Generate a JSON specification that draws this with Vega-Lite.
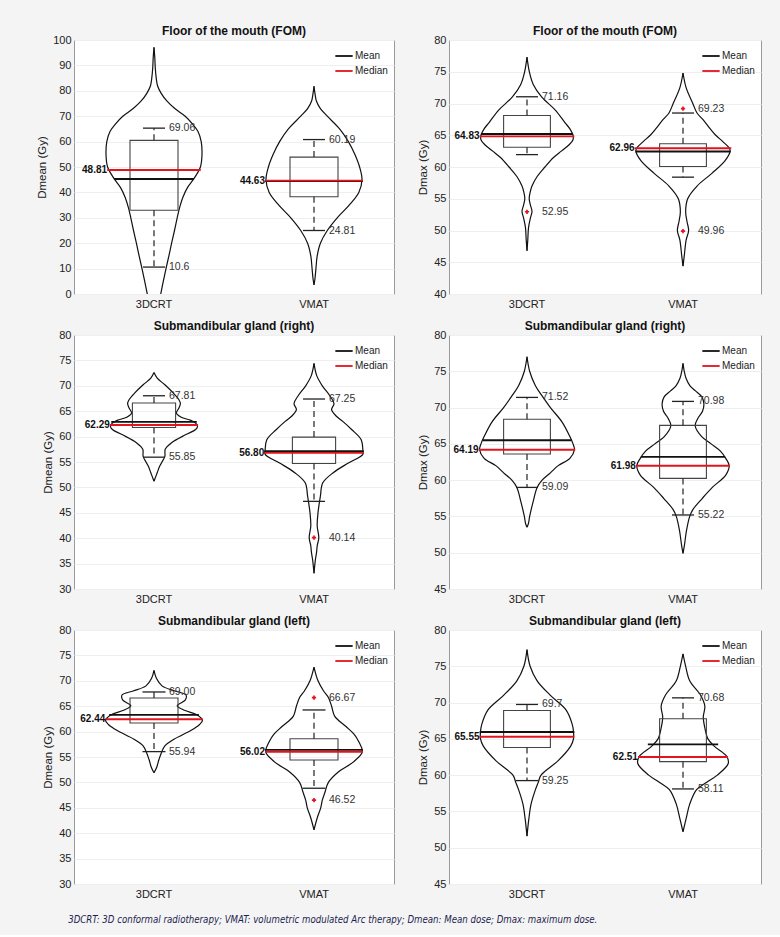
{
"$schema": "https://vega.github.io/schema/vega-lite/v6.json",
"padding": {"left": 36, "top": 24, "right": 20, "bottom": 10},
"background": "#f4f4f4",
"data": {"values": [
{"p":1,"k":"v","g":"3DCRT","y":97.1,"w":0},{"p":1,"k":"v","g":"3DCRT","y":93,"w":0.005},{"p":1,"k":"v","g":"3DCRT","y":89,"w":0.008},{"p":1,"k":"v","g":"3DCRT","y":85,"w":0.014},{"p":1,"k":"v","g":"3DCRT","y":82,"w":0.022},{"p":1,"k":"v","g":"3DCRT","y":79,"w":0.045},{"p":1,"k":"v","g":"3DCRT","y":76,"w":0.08},{"p":1,"k":"v","g":"3DCRT","y":73,"w":0.13},{"p":1,"k":"v","g":"3DCRT","y":70,"w":0.195},{"p":1,"k":"v","g":"3DCRT","y":67,"w":0.24},{"p":1,"k":"v","g":"3DCRT","y":64,"w":0.275},{"p":1,"k":"v","g":"3DCRT","y":60,"w":0.295},{"p":1,"k":"v","g":"3DCRT","y":55,"w":0.3},{"p":1,"k":"v","g":"3DCRT","y":50,"w":0.29},{"p":1,"k":"v","g":"3DCRT","y":45,"w":0.245},{"p":1,"k":"v","g":"3DCRT","y":42,"w":0.21},{"p":1,"k":"v","g":"3DCRT","y":38,"w":0.18},{"p":1,"k":"v","g":"3DCRT","y":34,"w":0.16},{"p":1,"k":"v","g":"3DCRT","y":30,"w":0.145},{"p":1,"k":"v","g":"3DCRT","y":25,"w":0.128},{"p":1,"k":"v","g":"3DCRT","y":20,"w":0.11},{"p":1,"k":"v","g":"3DCRT","y":15,"w":0.093},{"p":1,"k":"v","g":"3DCRT","y":10,"w":0.075},{"p":1,"k":"v","g":"3DCRT","y":5,"w":0.058},{"p":1,"k":"v","g":"3DCRT","y":0,"w":0.042},{"p":1,"k":"v","g":"3DCRT","y":-4,"w":0.03},
{"p":1,"k":"v","g":"VMAT","y":81.8,"w":0},{"p":1,"k":"v","g":"VMAT","y":79,"w":0.006},{"p":1,"k":"v","g":"VMAT","y":76,"w":0.015},{"p":1,"k":"v","g":"VMAT","y":73,"w":0.04},{"p":1,"k":"v","g":"VMAT","y":70,"w":0.083},{"p":1,"k":"v","g":"VMAT","y":65,"w":0.16},{"p":1,"k":"v","g":"VMAT","y":60,"w":0.215},{"p":1,"k":"v","g":"VMAT","y":55,"w":0.255},{"p":1,"k":"v","g":"VMAT","y":50,"w":0.285},{"p":1,"k":"v","g":"VMAT","y":45,"w":0.3},{"p":1,"k":"v","g":"VMAT","y":40,"w":0.28},{"p":1,"k":"v","g":"VMAT","y":35,"w":0.22},{"p":1,"k":"v","g":"VMAT","y":30,"w":0.145},{"p":1,"k":"v","g":"VMAT","y":25,"w":0.083},{"p":1,"k":"v","g":"VMAT","y":20,"w":0.04},{"p":1,"k":"v","g":"VMAT","y":15,"w":0.02},{"p":1,"k":"v","g":"VMAT","y":10,"w":0.012},{"p":1,"k":"v","g":"VMAT","y":6,"w":0.006},{"p":1,"k":"v","g":"VMAT","y":3.6,"w":0},
{"p":1,"k":"box","g":"3DCRT","y":33.0,"y2":60.5},{"p":1,"k":"box","g":"VMAT","y":38.3,"y2":53.9},
{"p":1,"k":"wh","g":"3DCRT","y":60.5,"y2":65.3},{"p":1,"k":"wh","g":"3DCRT","y":33.0,"y2":10.6},{"p":1,"k":"wh","g":"VMAT","y":53.9,"y2":60.8},{"p":1,"k":"wh","g":"VMAT","y":38.3,"y2":25.0},
{"p":1,"k":"cap","g":"3DCRT","y":65.3},{"p":1,"k":"cap","g":"3DCRT","y":10.6},{"p":1,"k":"cap","g":"VMAT","y":60.8},{"p":1,"k":"cap","g":"VMAT","y":25.0},
{"p":1,"k":"stat","g":"3DCRT","s":"Mean","y":45.3,"w":0.245},{"p":1,"k":"stat","g":"VMAT","s":"Mean","y":44.5,"w":0.3},{"p":1,"k":"stat","g":"3DCRT","s":"Median","y":48.81,"w":0.287,"t":"48.81"},{"p":1,"k":"stat","g":"VMAT","s":"Median","y":44.63,"w":0.3,"t":"44.63"},
{"p":1,"k":"lab","g":"3DCRT","y":65.3,"t":"69.06"},{"p":1,"k":"lab","g":"3DCRT","y":10.6,"t":"10.6"},{"p":1,"k":"lab","g":"VMAT","y":60.8,"t":"60.19"},{"p":1,"k":"lab","g":"VMAT","y":25.0,"t":"24.81"},

{"p":2,"k":"v","g":"3DCRT","y":77.3,"w":0},{"p":2,"k":"v","g":"3DCRT","y":75,"w":0.015},{"p":2,"k":"v","g":"3DCRT","y":73,"w":0.04},{"p":2,"k":"v","g":"3DCRT","y":71,"w":0.095},{"p":2,"k":"v","g":"3DCRT","y":69,"w":0.18},{"p":2,"k":"v","g":"3DCRT","y":67,"w":0.243},{"p":2,"k":"v","g":"3DCRT","y":66,"w":0.275},{"p":2,"k":"v","g":"3DCRT","y":65,"w":0.295},{"p":2,"k":"v","g":"3DCRT","y":64.3,"w":0.295},{"p":2,"k":"v","g":"3DCRT","y":63.5,"w":0.27},{"p":2,"k":"v","g":"3DCRT","y":62.5,"w":0.22},{"p":2,"k":"v","g":"3DCRT","y":61.5,"w":0.17},{"p":2,"k":"v","g":"3DCRT","y":60,"w":0.115},{"p":2,"k":"v","g":"3DCRT","y":58.5,"w":0.065},{"p":2,"k":"v","g":"3DCRT","y":57,"w":0.032},{"p":2,"k":"v","g":"3DCRT","y":56,"w":0.02},{"p":2,"k":"v","g":"3DCRT","y":55,"w":0.014},{"p":2,"k":"v","g":"3DCRT","y":54,"w":0.022},{"p":2,"k":"v","g":"3DCRT","y":53,"w":0.032},{"p":2,"k":"v","g":"3DCRT","y":52,"w":0.022},{"p":2,"k":"v","g":"3DCRT","y":50.5,"w":0.01},{"p":2,"k":"v","g":"3DCRT","y":48.5,"w":0.005},{"p":2,"k":"v","g":"3DCRT","y":46.8,"w":0},
{"p":2,"k":"v","g":"VMAT","y":74.8,"w":0},{"p":2,"k":"v","g":"VMAT","y":72.5,"w":0.02},{"p":2,"k":"v","g":"VMAT","y":70,"w":0.063},{"p":2,"k":"v","g":"VMAT","y":68.5,"w":0.09},{"p":2,"k":"v","g":"VMAT","y":67.5,"w":0.127},{"p":2,"k":"v","g":"VMAT","y":66,"w":0.175},{"p":2,"k":"v","g":"VMAT","y":65,"w":0.21},{"p":2,"k":"v","g":"VMAT","y":64,"w":0.255},{"p":2,"k":"v","g":"VMAT","y":63,"w":0.296},{"p":2,"k":"v","g":"VMAT","y":62.5,"w":0.302},{"p":2,"k":"v","g":"VMAT","y":61,"w":0.27},{"p":2,"k":"v","g":"VMAT","y":59,"w":0.185},{"p":2,"k":"v","g":"VMAT","y":57,"w":0.09},{"p":2,"k":"v","g":"VMAT","y":55,"w":0.03},{"p":2,"k":"v","g":"VMAT","y":53,"w":0.017},{"p":2,"k":"v","g":"VMAT","y":51.5,"w":0.025},{"p":2,"k":"v","g":"VMAT","y":50,"w":0.036},{"p":2,"k":"v","g":"VMAT","y":48.5,"w":0.02},{"p":2,"k":"v","g":"VMAT","y":46,"w":0.008},{"p":2,"k":"v","g":"VMAT","y":44.4,"w":0},
{"p":2,"k":"box","g":"3DCRT","y":63.1,"y2":68.1},{"p":2,"k":"box","g":"VMAT","y":60.08,"y2":63.67},
{"p":2,"k":"wh","g":"3DCRT","y":68.1,"y2":71.06},{"p":2,"k":"wh","g":"3DCRT","y":63.1,"y2":61.95},{"p":2,"k":"wh","g":"VMAT","y":63.67,"y2":68.5},{"p":2,"k":"wh","g":"VMAT","y":60.08,"y2":58.4},
{"p":2,"k":"cap","g":"3DCRT","y":71.06},{"p":2,"k":"cap","g":"3DCRT","y":61.95},{"p":2,"k":"cap","g":"VMAT","y":68.5},{"p":2,"k":"cap","g":"VMAT","y":58.4},
{"p":2,"k":"stat","g":"3DCRT","s":"Mean","y":65.2,"w":0.29},{"p":2,"k":"stat","g":"VMAT","s":"Mean","y":62.44,"w":0.3},{"p":2,"k":"stat","g":"3DCRT","s":"Median","y":64.83,"w":0.298,"t":"64.83"},{"p":2,"k":"stat","g":"VMAT","s":"Median","y":62.96,"w":0.304,"t":"62.96"},
{"p":2,"k":"lab","g":"3DCRT","y":71.06,"t":"71.16"},{"p":2,"k":"lab","g":"3DCRT","y":52.95,"t":"52.95"},{"p":2,"k":"lab","g":"VMAT","y":69.2,"t":"69.23"},{"p":2,"k":"lab","g":"VMAT","y":49.9,"t":"49.96"},
{"p":2,"k":"out","g":"3DCRT","y":52.95},{"p":2,"k":"out","g":"VMAT","y":69.2},{"p":2,"k":"out","g":"VMAT","y":49.9},

{"p":3,"k":"v","g":"3DCRT","y":72.6,"w":0},{"p":3,"k":"v","g":"3DCRT","y":71.5,"w":0.02},{"p":3,"k":"v","g":"3DCRT","y":70.2,"w":0.068},{"p":3,"k":"v","g":"3DCRT","y":68.6,"w":0.12},{"p":3,"k":"v","g":"3DCRT","y":67.3,"w":0.155},{"p":3,"k":"v","g":"3DCRT","y":66.5,"w":0.165},{"p":3,"k":"v","g":"3DCRT","y":65.6,"w":0.155},{"p":3,"k":"v","g":"3DCRT","y":64.6,"w":0.14},{"p":3,"k":"v","g":"3DCRT","y":63.8,"w":0.17},{"p":3,"k":"v","g":"3DCRT","y":63.2,"w":0.23},{"p":3,"k":"v","g":"3DCRT","y":62.6,"w":0.262},{"p":3,"k":"v","g":"3DCRT","y":62,"w":0.272},{"p":3,"k":"v","g":"3DCRT","y":61.4,"w":0.26},{"p":3,"k":"v","g":"3DCRT","y":60.4,"w":0.2},{"p":3,"k":"v","g":"3DCRT","y":58.8,"w":0.11},{"p":3,"k":"v","g":"3DCRT","y":57.5,"w":0.07},{"p":3,"k":"v","g":"3DCRT","y":56.1,"w":0.068},{"p":3,"k":"v","g":"3DCRT","y":55,"w":0.05},{"p":3,"k":"v","g":"3DCRT","y":54.2,"w":0.036},{"p":3,"k":"v","g":"3DCRT","y":52.9,"w":0.02},{"p":3,"k":"v","g":"3DCRT","y":51.2,"w":0},
{"p":3,"k":"v","g":"VMAT","y":74.4,"w":0},{"p":3,"k":"v","g":"VMAT","y":72,"w":0.017},{"p":3,"k":"v","g":"VMAT","y":70,"w":0.052},{"p":3,"k":"v","g":"VMAT","y":68,"w":0.1},{"p":3,"k":"v","g":"VMAT","y":66.5,"w":0.125},{"p":3,"k":"v","g":"VMAT","y":65.3,"w":0.11},{"p":3,"k":"v","g":"VMAT","y":64,"w":0.14},{"p":3,"k":"v","g":"VMAT","y":63,"w":0.18},{"p":3,"k":"v","g":"VMAT","y":61.4,"w":0.235},{"p":3,"k":"v","g":"VMAT","y":59.4,"w":0.295},{"p":3,"k":"v","g":"VMAT","y":57.5,"w":0.305},{"p":3,"k":"v","g":"VMAT","y":56.5,"w":0.305},{"p":3,"k":"v","g":"VMAT","y":54.8,"w":0.215},{"p":3,"k":"v","g":"VMAT","y":52.9,"w":0.12},{"p":3,"k":"v","g":"VMAT","y":50.9,"w":0.055},{"p":3,"k":"v","g":"VMAT","y":48.3,"w":0.04},{"p":3,"k":"v","g":"VMAT","y":45,"w":0.025},{"p":3,"k":"v","g":"VMAT","y":42.4,"w":0.02},{"p":3,"k":"v","g":"VMAT","y":40.1,"w":0.03},{"p":3,"k":"v","g":"VMAT","y":38.5,"w":0.02},{"p":3,"k":"v","g":"VMAT","y":37.2,"w":0.016},{"p":3,"k":"v","g":"VMAT","y":35.6,"w":0.008},{"p":3,"k":"v","g":"VMAT","y":33.1,"w":0},
{"p":3,"k":"box","g":"3DCRT","y":61.8,"y2":66.6},{"p":3,"k":"box","g":"VMAT","y":54.7,"y2":59.9},
{"p":3,"k":"wh","g":"3DCRT","y":66.6,"y2":68.04},{"p":3,"k":"wh","g":"3DCRT","y":61.8,"y2":55.95},{"p":3,"k":"wh","g":"VMAT","y":59.9,"y2":67.4},{"p":3,"k":"wh","g":"VMAT","y":54.7,"y2":47.25},
{"p":3,"k":"cap","g":"3DCRT","y":68.04},{"p":3,"k":"cap","g":"3DCRT","y":55.95},{"p":3,"k":"cap","g":"VMAT","y":67.4},{"p":3,"k":"cap","g":"VMAT","y":47.25},
{"p":3,"k":"stat","g":"3DCRT","s":"Mean","y":62.9,"w":0.262},{"p":3,"k":"stat","g":"VMAT","s":"Mean","y":57.15,"w":0.305},{"p":3,"k":"stat","g":"3DCRT","s":"Median","y":62.29,"w":0.27,"t":"62.29"},{"p":3,"k":"stat","g":"VMAT","s":"Median","y":56.8,"w":0.305,"t":"56.80"},
{"p":3,"k":"lab","g":"3DCRT","y":68.04,"t":"67.81"},{"p":3,"k":"lab","g":"3DCRT","y":55.95,"t":"55.85"},{"p":3,"k":"lab","g":"VMAT","y":67.4,"t":"67.25"},{"p":3,"k":"lab","g":"VMAT","y":40.13,"t":"40.14"},
{"p":3,"k":"out","g":"VMAT","y":40.13},

{"p":4,"k":"v","g":"3DCRT","y":77,"w":0},{"p":4,"k":"v","g":"3DCRT","y":75,"w":0.017},{"p":4,"k":"v","g":"3DCRT","y":73,"w":0.054},{"p":4,"k":"v","g":"3DCRT","y":71.5,"w":0.1},{"p":4,"k":"v","g":"3DCRT","y":70,"w":0.15},{"p":4,"k":"v","g":"3DCRT","y":68,"w":0.225},{"p":4,"k":"v","g":"3DCRT","y":66,"w":0.275},{"p":4,"k":"v","g":"3DCRT","y":65,"w":0.295},{"p":4,"k":"v","g":"3DCRT","y":64.2,"w":0.304},{"p":4,"k":"v","g":"3DCRT","y":63,"w":0.275},{"p":4,"k":"v","g":"3DCRT","y":62,"w":0.2},{"p":4,"k":"v","g":"3DCRT","y":61,"w":0.15},{"p":4,"k":"v","g":"3DCRT","y":60,"w":0.097},{"p":4,"k":"v","g":"3DCRT","y":59,"w":0.065},{"p":4,"k":"v","g":"3DCRT","y":57,"w":0.039},{"p":4,"k":"v","g":"3DCRT","y":55,"w":0.017},{"p":4,"k":"v","g":"3DCRT","y":54,"w":0.009},{"p":4,"k":"v","g":"3DCRT","y":53.5,"w":0},
{"p":4,"k":"v","g":"VMAT","y":76.1,"w":0},{"p":4,"k":"v","g":"VMAT","y":75,"w":0.008},{"p":4,"k":"v","g":"VMAT","y":74,"w":0.02},{"p":4,"k":"v","g":"VMAT","y":73,"w":0.045},{"p":4,"k":"v","g":"VMAT","y":72.3,"w":0.08},{"p":4,"k":"v","g":"VMAT","y":71.5,"w":0.12},{"p":4,"k":"v","g":"VMAT","y":70.5,"w":0.134},{"p":4,"k":"v","g":"VMAT","y":69.5,"w":0.125},{"p":4,"k":"v","g":"VMAT","y":68.5,"w":0.095},{"p":4,"k":"v","g":"VMAT","y":67.5,"w":0.078},{"p":4,"k":"v","g":"VMAT","y":66,"w":0.12},{"p":4,"k":"v","g":"VMAT","y":65,"w":0.18},{"p":4,"k":"v","g":"VMAT","y":64,"w":0.24},{"p":4,"k":"v","g":"VMAT","y":63,"w":0.274},{"p":4,"k":"v","g":"VMAT","y":62,"w":0.296},{"p":4,"k":"v","g":"VMAT","y":60.7,"w":0.274},{"p":4,"k":"v","g":"VMAT","y":59,"w":0.188},{"p":4,"k":"v","g":"VMAT","y":57.5,"w":0.124},{"p":4,"k":"v","g":"VMAT","y":56,"w":0.065},{"p":4,"k":"v","g":"VMAT","y":55,"w":0.043},{"p":4,"k":"v","g":"VMAT","y":53,"w":0.022},{"p":4,"k":"v","g":"VMAT","y":51,"w":0.009},{"p":4,"k":"v","g":"VMAT","y":49.9,"w":0},
{"p":4,"k":"box","g":"3DCRT","y":63.6,"y2":68.4},{"p":4,"k":"box","g":"VMAT","y":60.24,"y2":67.55},
{"p":4,"k":"wh","g":"3DCRT","y":68.4,"y2":71.4},{"p":4,"k":"wh","g":"3DCRT","y":63.6,"y2":59.0},{"p":4,"k":"wh","g":"VMAT","y":67.55,"y2":70.85},{"p":4,"k":"wh","g":"VMAT","y":60.24,"y2":55.2},
{"p":4,"k":"cap","g":"3DCRT","y":71.4},{"p":4,"k":"cap","g":"3DCRT","y":59.0},{"p":4,"k":"cap","g":"VMAT","y":70.85},{"p":4,"k":"cap","g":"VMAT","y":55.2},
{"p":4,"k":"stat","g":"3DCRT","s":"Mean","y":65.5,"w":0.28},{"p":4,"k":"stat","g":"VMAT","s":"Mean","y":63.2,"w":0.265},{"p":4,"k":"stat","g":"3DCRT","s":"Median","y":64.19,"w":0.304,"t":"64.19"},{"p":4,"k":"stat","g":"VMAT","s":"Median","y":61.98,"w":0.296,"t":"61.98"},
{"p":4,"k":"lab","g":"3DCRT","y":71.4,"t":"71.52"},{"p":4,"k":"lab","g":"3DCRT","y":59.0,"t":"59.09"},{"p":4,"k":"lab","g":"VMAT","y":70.85,"t":"70.98"},{"p":4,"k":"lab","g":"VMAT","y":55.2,"t":"55.22"},

{"p":5,"k":"v","g":"3DCRT","y":72.06,"w":0},{"p":5,"k":"v","g":"3DCRT","y":70.5,"w":0.015},{"p":5,"k":"v","g":"3DCRT","y":69,"w":0.05},{"p":5,"k":"v","g":"3DCRT","y":68,"w":0.13},{"p":5,"k":"v","g":"3DCRT","y":67.2,"w":0.2},{"p":5,"k":"v","g":"3DCRT","y":66.2,"w":0.195},{"p":5,"k":"v","g":"3DCRT","y":65.1,"w":0.145},{"p":5,"k":"v","g":"3DCRT","y":64.2,"w":0.19},{"p":5,"k":"v","g":"3DCRT","y":63.5,"w":0.255},{"p":5,"k":"v","g":"3DCRT","y":62.8,"w":0.29},{"p":5,"k":"v","g":"3DCRT","y":62.2,"w":0.303},{"p":5,"k":"v","g":"3DCRT","y":61.4,"w":0.285},{"p":5,"k":"v","g":"3DCRT","y":60.2,"w":0.23},{"p":5,"k":"v","g":"3DCRT","y":58.5,"w":0.125},{"p":5,"k":"v","g":"3DCRT","y":57.2,"w":0.068},{"p":5,"k":"v","g":"3DCRT","y":55.9,"w":0.047},{"p":5,"k":"v","g":"3DCRT","y":54.5,"w":0.031},{"p":5,"k":"v","g":"3DCRT","y":53,"w":0.017},{"p":5,"k":"v","g":"3DCRT","y":51.9,"w":0},
{"p":5,"k":"v","g":"VMAT","y":72.7,"w":0},{"p":5,"k":"v","g":"VMAT","y":70,"w":0.025},{"p":5,"k":"v","g":"VMAT","y":68,"w":0.06},{"p":5,"k":"v","g":"VMAT","y":66.7,"w":0.09},{"p":5,"k":"v","g":"VMAT","y":65,"w":0.11},{"p":5,"k":"v","g":"VMAT","y":63,"w":0.13},{"p":5,"k":"v","g":"VMAT","y":61,"w":0.2},{"p":5,"k":"v","g":"VMAT","y":59.5,"w":0.25},{"p":5,"k":"v","g":"VMAT","y":58,"w":0.28},{"p":5,"k":"v","g":"VMAT","y":56,"w":0.302},{"p":5,"k":"v","g":"VMAT","y":54,"w":0.245},{"p":5,"k":"v","g":"VMAT","y":52,"w":0.15},{"p":5,"k":"v","g":"VMAT","y":50,"w":0.09},{"p":5,"k":"v","g":"VMAT","y":48,"w":0.068},{"p":5,"k":"v","g":"VMAT","y":46.5,"w":0.052},{"p":5,"k":"v","g":"VMAT","y":45,"w":0.042},{"p":5,"k":"v","g":"VMAT","y":43,"w":0.02},{"p":5,"k":"v","g":"VMAT","y":40.65,"w":0},
{"p":5,"k":"box","g":"3DCRT","y":61.7,"y2":66.6},{"p":5,"k":"box","g":"VMAT","y":54.4,"y2":58.6},
{"p":5,"k":"wh","g":"3DCRT","y":66.6,"y2":67.8},{"p":5,"k":"wh","g":"3DCRT","y":61.7,"y2":56.06},{"p":5,"k":"wh","g":"VMAT","y":58.6,"y2":64.26},{"p":5,"k":"wh","g":"VMAT","y":54.4,"y2":48.85},
{"p":5,"k":"cap","g":"3DCRT","y":67.8},{"p":5,"k":"cap","g":"3DCRT","y":56.06},{"p":5,"k":"cap","g":"VMAT","y":64.26},{"p":5,"k":"cap","g":"VMAT","y":48.85},
{"p":5,"k":"stat","g":"3DCRT","s":"Mean","y":63.3,"w":0.275},{"p":5,"k":"stat","g":"VMAT","s":"Mean","y":56.4,"w":0.3},{"p":5,"k":"stat","g":"3DCRT","s":"Median","y":62.44,"w":0.298,"t":"62.44"},{"p":5,"k":"stat","g":"VMAT","s":"Median","y":56.02,"w":0.3,"t":"56.02"},
{"p":5,"k":"lab","g":"3DCRT","y":67.8,"t":"69.00"},{"p":5,"k":"lab","g":"3DCRT","y":56.06,"t":"55.94"},{"p":5,"k":"lab","g":"VMAT","y":66.7,"t":"66.67"},{"p":5,"k":"lab","g":"VMAT","y":46.5,"t":"46.52"},
{"p":5,"k":"out","g":"VMAT","y":66.7},{"p":5,"k":"out","g":"VMAT","y":46.5},

{"p":6,"k":"v","g":"3DCRT","y":77.3,"w":0},{"p":6,"k":"v","g":"3DCRT","y":75,"w":0.02},{"p":6,"k":"v","g":"3DCRT","y":73,"w":0.065},{"p":6,"k":"v","g":"3DCRT","y":71,"w":0.15},{"p":6,"k":"v","g":"3DCRT","y":69,"w":0.25},{"p":6,"k":"v","g":"3DCRT","y":67,"w":0.29},{"p":6,"k":"v","g":"3DCRT","y":66,"w":0.298},{"p":6,"k":"v","g":"3DCRT","y":65,"w":0.298},{"p":6,"k":"v","g":"3DCRT","y":64,"w":0.28},{"p":6,"k":"v","g":"3DCRT","y":62,"w":0.2},{"p":6,"k":"v","g":"3DCRT","y":60,"w":0.09},{"p":6,"k":"v","g":"3DCRT","y":59,"w":0.072},{"p":6,"k":"v","g":"3DCRT","y":58,"w":0.054},{"p":6,"k":"v","g":"3DCRT","y":56,"w":0.026},{"p":6,"k":"v","g":"3DCRT","y":54,"w":0.012},{"p":6,"k":"v","g":"3DCRT","y":51.6,"w":0},
{"p":6,"k":"v","g":"VMAT","y":76.7,"w":0},{"p":6,"k":"v","g":"VMAT","y":75,"w":0.017},{"p":6,"k":"v","g":"VMAT","y":73,"w":0.043},{"p":6,"k":"v","g":"VMAT","y":71,"w":0.113},{"p":6,"k":"v","g":"VMAT","y":69.5,"w":0.14},{"p":6,"k":"v","g":"VMAT","y":68,"w":0.13},{"p":6,"k":"v","g":"VMAT","y":66.5,"w":0.14},{"p":6,"k":"v","g":"VMAT","y":65,"w":0.16},{"p":6,"k":"v","g":"VMAT","y":64,"w":0.2},{"p":6,"k":"v","g":"VMAT","y":62.6,"w":0.28},{"p":6,"k":"v","g":"VMAT","y":61.6,"w":0.29},{"p":6,"k":"v","g":"VMAT","y":60,"w":0.22},{"p":6,"k":"v","g":"VMAT","y":59,"w":0.15},{"p":6,"k":"v","g":"VMAT","y":58,"w":0.087},{"p":6,"k":"v","g":"VMAT","y":56,"w":0.043},{"p":6,"k":"v","g":"VMAT","y":54,"w":0.02},{"p":6,"k":"v","g":"VMAT","y":52.2,"w":0},
{"p":6,"k":"box","g":"3DCRT","y":63.8,"y2":68.9},{"p":6,"k":"box","g":"VMAT","y":61.86,"y2":67.77},
{"p":6,"k":"wh","g":"3DCRT","y":68.9,"y2":69.74},{"p":6,"k":"wh","g":"3DCRT","y":63.8,"y2":59.25},{"p":6,"k":"wh","g":"VMAT","y":67.77,"y2":70.65},{"p":6,"k":"wh","g":"VMAT","y":61.86,"y2":58.1},
{"p":6,"k":"cap","g":"3DCRT","y":69.74},{"p":6,"k":"cap","g":"3DCRT","y":59.25},{"p":6,"k":"cap","g":"VMAT","y":70.65},{"p":6,"k":"cap","g":"VMAT","y":58.1},
{"p":6,"k":"stat","g":"3DCRT","s":"Mean","y":65.94,"w":0.298},{"p":6,"k":"stat","g":"VMAT","s":"Mean","y":64.24,"w":0.22},{"p":6,"k":"stat","g":"3DCRT","s":"Median","y":65.3,"w":0.298,"t":"65.55"},{"p":6,"k":"stat","g":"VMAT","s":"Median","y":62.51,"w":0.283,"t":"62.51"},
{"p":6,"k":"lab","g":"3DCRT","y":69.74,"t":"69.7"},{"p":6,"k":"lab","g":"3DCRT","y":59.25,"t":"59.25"},{"p":6,"k":"lab","g":"VMAT","y":70.65,"t":"70.68"},{"p":6,"k":"lab","g":"VMAT","y":58.1,"t":"58.11"}
]},
"columns": 2,
"spacing": {"row": 9, "column": 22},
"resolve": {"scale": {"color": "independent", "size": "independent", "xOffset": "independent", "x": "independent", "y": "independent"}, "legend": {"color": "independent", "size": "independent"}},
"title": {"text": "3DCRT: 3D conformal radiotherapy; VMAT: volumetric modulated Arc therapy; Dmean: Mean dose; Dmax: maximum dose.", "orient": "bottom", "anchor": "start", "dx": 32, "offset": 15, "font": "Liberation Sans Narrow, DejaVu Sans Condensed, sans-serif", "fontSize": 9.6, "fontStyle": "italic", "fontWeight": "normal", "color": "#1e1e50"},
"concat": [
{"title": "Floor of the mouth (FOM)", "width": 320, "height": 254,
 "transform": [{"filter": "datum.p == 1"}],
 "encoding": {
  "x": {"field": "g", "type": "nominal", "scale": {"type": "band", "domain": ["3DCRT", "VMAT"], "paddingInner": 0, "paddingOuter": 0}, "axis": {"title": null, "labelAngle": 0}},
  "y": {"field": "y", "type": "quantitative", "scale": {"domain": [0, 100], "nice": false, "zero": false}, "axis": {"title": "Dmean (Gy)", "values": [0,10,20,30,40,50,60,70,80,90,100]}}
 },
 "resolve": {"scale": {"xOffset": "independent"}},
 "layer": [
  {"transform": [{"filter": "datum.k == 'v'"}], "mark": {"type": "line", "color": "#111", "strokeWidth": 1.2, "interpolate": "catmull-rom", "clip": true}, "encoding": {"xOffset": {"field": "w", "type": "quantitative", "scale": {"domain": [-0.5, 0.5]}}, "order": {"field": "y", "type": "quantitative"}, "detail": {"field": "g"}}},
  {"transform": [{"filter": "datum.k == 'v'"}], "mark": {"type": "line", "color": "#111", "strokeWidth": 1.2, "interpolate": "catmull-rom", "clip": true}, "encoding": {"xOffset": {"field": "w", "type": "quantitative", "scale": {"domain": [-0.5, 0.5], "reverse": true}}, "order": {"field": "y", "type": "quantitative"}, "detail": {"field": "g"}}},
  {"transform": [{"filter": "datum.k == 'box'"}], "mark": {"type": "bar", "width": {"band": 0.3}, "fill": "transparent", "stroke": "#444", "strokeWidth": 1.1}, "encoding": {"y2": {"field": "y2"}}},
  {"transform": [{"filter": "datum.k == 'wh'"}], "mark": {"type": "rule", "color": "#222", "strokeWidth": 1.2, "strokeDash": [6, 4]}, "encoding": {"y2": {"field": "y2"}}},
  {"transform": [{"filter": "datum.k == 'cap'"}], "mark": {"type": "tick", "color": "#222", "size": 22, "thickness": 1.3, "opacity": 1}},
  {"transform": [{"filter": "datum.k == 'stat'"}], "mark": {"type": "tick", "filled": false, "thickness": 0.2, "strokeWidth": 1.7, "opacity": 1}, "encoding": {"size": {"field": "w", "type": "quantitative", "scale": {"domain": [0, 0.5], "range": [0, 160]}, "legend": null}, "color": {"field": "s", "type": "nominal", "scale": {"domain": ["Mean", "Median"], "range": ["#111111", "#e3141b"]}, "legend": {"title": null, "orient": "top-right", "offset": 6, "symbolType": "stroke", "symbolSize": 300, "symbolStrokeWidth": 1.8, "labelOffset": 1, "rowPadding": 0, "padding": 0}}}},
  {"transform": [{"filter": "datum.k == 'stat' && datum.s == 'Median'"}], "mark": {"type": "text", "align": "right", "dx": -1, "fontWeight": "bold", "fontSize": 10, "color": "#111"}, "encoding": {"xOffset": {"field": "w", "type": "quantitative", "scale": {"domain": [-0.5, 0.5], "reverse": true}}, "text": {"field": "t"}}},
  {"transform": [{"filter": "datum.k == 'lab'"}], "mark": {"type": "text", "align": "left", "dx": 15, "fontSize": 10.5, "color": "#333"}, "encoding": {"text": {"field": "t"}}},
  {"transform": [{"filter": "datum.k == 'out'"}], "mark": {"type": "point", "shape": "cross", "filled": true, "color": "#e3141b", "size": 18, "opacity": 1}}
 ]},
{"title": "Floor of the mouth (FOM)", "width": 312, "height": 254,
 "transform": [{"filter": "datum.p == 2"}],
 "encoding": {
  "x": {"field": "g", "type": "nominal", "scale": {"type": "band", "domain": ["3DCRT", "VMAT"], "paddingInner": 0, "paddingOuter": 0}, "axis": {"title": null, "labelAngle": 0}},
  "y": {"field": "y", "type": "quantitative", "scale": {"domain": [40, 80], "nice": false, "zero": false}, "axis": {"title": "Dmax (Gy)", "values": [40,45,50,55,60,65,70,75,80]}}
 },
 "resolve": {"scale": {"xOffset": "independent"}},
 "layer": [
  {"transform": [{"filter": "datum.k == 'v'"}], "mark": {"type": "line", "color": "#111", "strokeWidth": 1.2, "interpolate": "catmull-rom", "clip": true}, "encoding": {"xOffset": {"field": "w", "type": "quantitative", "scale": {"domain": [-0.5, 0.5]}}, "order": {"field": "y", "type": "quantitative"}, "detail": {"field": "g"}}},
  {"transform": [{"filter": "datum.k == 'v'"}], "mark": {"type": "line", "color": "#111", "strokeWidth": 1.2, "interpolate": "catmull-rom", "clip": true}, "encoding": {"xOffset": {"field": "w", "type": "quantitative", "scale": {"domain": [-0.5, 0.5], "reverse": true}}, "order": {"field": "y", "type": "quantitative"}, "detail": {"field": "g"}}},
  {"transform": [{"filter": "datum.k == 'box'"}], "mark": {"type": "bar", "width": {"band": 0.3}, "fill": "transparent", "stroke": "#444", "strokeWidth": 1.1}, "encoding": {"y2": {"field": "y2"}}},
  {"transform": [{"filter": "datum.k == 'wh'"}], "mark": {"type": "rule", "color": "#222", "strokeWidth": 1.2, "strokeDash": [6, 4]}, "encoding": {"y2": {"field": "y2"}}},
  {"transform": [{"filter": "datum.k == 'cap'"}], "mark": {"type": "tick", "color": "#222", "size": 22, "thickness": 1.3, "opacity": 1}},
  {"transform": [{"filter": "datum.k == 'stat'"}], "mark": {"type": "tick", "filled": false, "thickness": 0.2, "strokeWidth": 1.7, "opacity": 1}, "encoding": {"size": {"field": "w", "type": "quantitative", "scale": {"domain": [0, 0.5], "range": [0, 156]}, "legend": null}, "color": {"field": "s", "type": "nominal", "scale": {"domain": ["Mean", "Median"], "range": ["#111111", "#e3141b"]}, "legend": {"title": null, "orient": "top-right", "offset": 6, "symbolType": "stroke", "symbolSize": 300, "symbolStrokeWidth": 1.8, "labelOffset": 1, "rowPadding": 0, "padding": 0}}}},
  {"transform": [{"filter": "datum.k == 'stat' && datum.s == 'Median'"}], "mark": {"type": "text", "align": "right", "dx": -1, "fontWeight": "bold", "fontSize": 10, "color": "#111"}, "encoding": {"xOffset": {"field": "w", "type": "quantitative", "scale": {"domain": [-0.5, 0.5], "reverse": true}}, "text": {"field": "t"}}},
  {"transform": [{"filter": "datum.k == 'lab'"}], "mark": {"type": "text", "align": "left", "dx": 15, "fontSize": 10.5, "color": "#333"}, "encoding": {"text": {"field": "t"}}},
  {"transform": [{"filter": "datum.k == 'out'"}], "mark": {"type": "point", "shape": "cross", "filled": true, "color": "#e3141b", "size": 18, "opacity": 1}}
 ]},
{"title": "Submandibular gland (right)", "width": 320, "height": 254,
 "transform": [{"filter": "datum.p == 3"}],
 "encoding": {
  "x": {"field": "g", "type": "nominal", "scale": {"type": "band", "domain": ["3DCRT", "VMAT"], "paddingInner": 0, "paddingOuter": 0}, "axis": {"title": null, "labelAngle": 0}},
  "y": {"field": "y", "type": "quantitative", "scale": {"domain": [30, 80], "nice": false, "zero": false}, "axis": {"title": "Dmean (Gy)", "values": [30,35,40,45,50,55,60,65,70,75,80]}}
 },
 "resolve": {"scale": {"xOffset": "independent"}},
 "layer": [
  {"transform": [{"filter": "datum.k == 'v'"}], "mark": {"type": "line", "color": "#111", "strokeWidth": 1.2, "interpolate": "catmull-rom", "clip": true}, "encoding": {"xOffset": {"field": "w", "type": "quantitative", "scale": {"domain": [-0.5, 0.5]}}, "order": {"field": "y", "type": "quantitative"}, "detail": {"field": "g"}}},
  {"transform": [{"filter": "datum.k == 'v'"}], "mark": {"type": "line", "color": "#111", "strokeWidth": 1.2, "interpolate": "catmull-rom", "clip": true}, "encoding": {"xOffset": {"field": "w", "type": "quantitative", "scale": {"domain": [-0.5, 0.5], "reverse": true}}, "order": {"field": "y", "type": "quantitative"}, "detail": {"field": "g"}}},
  {"transform": [{"filter": "datum.k == 'box'"}], "mark": {"type": "bar", "width": {"band": 0.27}, "fill": "transparent", "stroke": "#444", "strokeWidth": 1.1}, "encoding": {"y2": {"field": "y2"}}},
  {"transform": [{"filter": "datum.k == 'wh'"}], "mark": {"type": "rule", "color": "#222", "strokeWidth": 1.2, "strokeDash": [6, 4]}, "encoding": {"y2": {"field": "y2"}}},
  {"transform": [{"filter": "datum.k == 'cap'"}], "mark": {"type": "tick", "color": "#222", "size": 22, "thickness": 1.3, "opacity": 1}},
  {"transform": [{"filter": "datum.k == 'stat'"}], "mark": {"type": "tick", "filled": false, "thickness": 0.2, "strokeWidth": 1.7, "opacity": 1}, "encoding": {"size": {"field": "w", "type": "quantitative", "scale": {"domain": [0, 0.5], "range": [0, 160]}, "legend": null}, "color": {"field": "s", "type": "nominal", "scale": {"domain": ["Mean", "Median"], "range": ["#111111", "#e3141b"]}, "legend": {"title": null, "orient": "top-right", "offset": 6, "symbolType": "stroke", "symbolSize": 300, "symbolStrokeWidth": 1.8, "labelOffset": 1, "rowPadding": 0, "padding": 0}}}},
  {"transform": [{"filter": "datum.k == 'stat' && datum.s == 'Median'"}], "mark": {"type": "text", "align": "right", "dx": -1, "fontWeight": "bold", "fontSize": 10, "color": "#111"}, "encoding": {"xOffset": {"field": "w", "type": "quantitative", "scale": {"domain": [-0.5, 0.5], "reverse": true}}, "text": {"field": "t"}}},
  {"transform": [{"filter": "datum.k == 'lab'"}], "mark": {"type": "text", "align": "left", "dx": 15, "fontSize": 10.5, "color": "#333"}, "encoding": {"text": {"field": "t"}}},
  {"transform": [{"filter": "datum.k == 'out'"}], "mark": {"type": "point", "shape": "cross", "filled": true, "color": "#e3141b", "size": 18, "opacity": 1}}
 ]},
{"title": "Submandibular gland (right)", "width": 312, "height": 254,
 "transform": [{"filter": "datum.p == 4"}],
 "encoding": {
  "x": {"field": "g", "type": "nominal", "scale": {"type": "band", "domain": ["3DCRT", "VMAT"], "paddingInner": 0, "paddingOuter": 0}, "axis": {"title": null, "labelAngle": 0}},
  "y": {"field": "y", "type": "quantitative", "scale": {"domain": [45, 80], "nice": false, "zero": false}, "axis": {"title": "Dmax (Gy)", "values": [45,50,55,60,65,70,75,80]}}
 },
 "resolve": {"scale": {"xOffset": "independent"}},
 "layer": [
  {"transform": [{"filter": "datum.k == 'v'"}], "mark": {"type": "line", "color": "#111", "strokeWidth": 1.2, "interpolate": "catmull-rom", "clip": true}, "encoding": {"xOffset": {"field": "w", "type": "quantitative", "scale": {"domain": [-0.5, 0.5]}}, "order": {"field": "y", "type": "quantitative"}, "detail": {"field": "g"}}},
  {"transform": [{"filter": "datum.k == 'v'"}], "mark": {"type": "line", "color": "#111", "strokeWidth": 1.2, "interpolate": "catmull-rom", "clip": true}, "encoding": {"xOffset": {"field": "w", "type": "quantitative", "scale": {"domain": [-0.5, 0.5], "reverse": true}}, "order": {"field": "y", "type": "quantitative"}, "detail": {"field": "g"}}},
  {"transform": [{"filter": "datum.k == 'box'"}], "mark": {"type": "bar", "width": {"band": 0.3}, "fill": "transparent", "stroke": "#444", "strokeWidth": 1.1}, "encoding": {"y2": {"field": "y2"}}},
  {"transform": [{"filter": "datum.k == 'wh'"}], "mark": {"type": "rule", "color": "#222", "strokeWidth": 1.2, "strokeDash": [6, 4]}, "encoding": {"y2": {"field": "y2"}}},
  {"transform": [{"filter": "datum.k == 'cap'"}], "mark": {"type": "tick", "color": "#222", "size": 22, "thickness": 1.3, "opacity": 1}},
  {"transform": [{"filter": "datum.k == 'stat'"}], "mark": {"type": "tick", "filled": false, "thickness": 0.2, "strokeWidth": 1.7, "opacity": 1}, "encoding": {"size": {"field": "w", "type": "quantitative", "scale": {"domain": [0, 0.5], "range": [0, 156]}, "legend": null}, "color": {"field": "s", "type": "nominal", "scale": {"domain": ["Mean", "Median"], "range": ["#111111", "#e3141b"]}, "legend": {"title": null, "orient": "top-right", "offset": 6, "symbolType": "stroke", "symbolSize": 300, "symbolStrokeWidth": 1.8, "labelOffset": 1, "rowPadding": 0, "padding": 0}}}},
  {"transform": [{"filter": "datum.k == 'stat' && datum.s == 'Median'"}], "mark": {"type": "text", "align": "right", "dx": -1, "fontWeight": "bold", "fontSize": 10, "color": "#111"}, "encoding": {"xOffset": {"field": "w", "type": "quantitative", "scale": {"domain": [-0.5, 0.5], "reverse": true}}, "text": {"field": "t"}}},
  {"transform": [{"filter": "datum.k == 'lab'"}], "mark": {"type": "text", "align": "left", "dx": 15, "fontSize": 10.5, "color": "#333"}, "encoding": {"text": {"field": "t"}}},
  {"transform": [{"filter": "datum.k == 'out'"}], "mark": {"type": "point", "shape": "cross", "filled": true, "color": "#e3141b", "size": 18, "opacity": 1}}
 ]},
{"title": "Submandibular gland (left)", "width": 320, "height": 254,
 "transform": [{"filter": "datum.p == 5"}],
 "encoding": {
  "x": {"field": "g", "type": "nominal", "scale": {"type": "band", "domain": ["3DCRT", "VMAT"], "paddingInner": 0, "paddingOuter": 0}, "axis": {"title": null, "labelAngle": 0}},
  "y": {"field": "y", "type": "quantitative", "scale": {"domain": [30, 80], "nice": false, "zero": false}, "axis": {"title": "Dmean (Gy)", "values": [30,35,40,45,50,55,60,65,70,75,80]}}
 },
 "resolve": {"scale": {"xOffset": "independent"}},
 "layer": [
  {"transform": [{"filter": "datum.k == 'v'"}], "mark": {"type": "line", "color": "#111", "strokeWidth": 1.2, "interpolate": "catmull-rom", "clip": true}, "encoding": {"xOffset": {"field": "w", "type": "quantitative", "scale": {"domain": [-0.5, 0.5]}}, "order": {"field": "y", "type": "quantitative"}, "detail": {"field": "g"}}},
  {"transform": [{"filter": "datum.k == 'v'"}], "mark": {"type": "line", "color": "#111", "strokeWidth": 1.2, "interpolate": "catmull-rom", "clip": true}, "encoding": {"xOffset": {"field": "w", "type": "quantitative", "scale": {"domain": [-0.5, 0.5], "reverse": true}}, "order": {"field": "y", "type": "quantitative"}, "detail": {"field": "g"}}},
  {"transform": [{"filter": "datum.k == 'box'"}], "mark": {"type": "bar", "width": {"band": 0.3}, "fill": "transparent", "stroke": "#444", "strokeWidth": 1.1}, "encoding": {"y2": {"field": "y2"}}},
  {"transform": [{"filter": "datum.k == 'wh'"}], "mark": {"type": "rule", "color": "#222", "strokeWidth": 1.2, "strokeDash": [6, 4]}, "encoding": {"y2": {"field": "y2"}}},
  {"transform": [{"filter": "datum.k == 'cap'"}], "mark": {"type": "tick", "color": "#222", "size": 23, "thickness": 1.3, "opacity": 1}},
  {"transform": [{"filter": "datum.k == 'stat'"}], "mark": {"type": "tick", "filled": false, "thickness": 0.2, "strokeWidth": 1.7, "opacity": 1}, "encoding": {"size": {"field": "w", "type": "quantitative", "scale": {"domain": [0, 0.5], "range": [0, 160]}, "legend": null}, "color": {"field": "s", "type": "nominal", "scale": {"domain": ["Mean", "Median"], "range": ["#111111", "#e3141b"]}, "legend": {"title": null, "orient": "top-right", "offset": 6, "symbolType": "stroke", "symbolSize": 300, "symbolStrokeWidth": 1.8, "labelOffset": 1, "rowPadding": 0, "padding": 0}}}},
  {"transform": [{"filter": "datum.k == 'stat' && datum.s == 'Median'"}], "mark": {"type": "text", "align": "right", "dx": -1, "fontWeight": "bold", "fontSize": 10, "color": "#111"}, "encoding": {"xOffset": {"field": "w", "type": "quantitative", "scale": {"domain": [-0.5, 0.5], "reverse": true}}, "text": {"field": "t"}}},
  {"transform": [{"filter": "datum.k == 'lab'"}], "mark": {"type": "text", "align": "left", "dx": 15, "fontSize": 10.5, "color": "#333"}, "encoding": {"text": {"field": "t"}}},
  {"transform": [{"filter": "datum.k == 'out'"}], "mark": {"type": "point", "shape": "cross", "filled": true, "color": "#e3141b", "size": 18, "opacity": 1}}
 ]},
{"title": "Submandibular gland (left)", "width": 312, "height": 254,
 "transform": [{"filter": "datum.p == 6"}],
 "encoding": {
  "x": {"field": "g", "type": "nominal", "scale": {"type": "band", "domain": ["3DCRT", "VMAT"], "paddingInner": 0, "paddingOuter": 0}, "axis": {"title": null, "labelAngle": 0}},
  "y": {"field": "y", "type": "quantitative", "scale": {"domain": [45, 80], "nice": false, "zero": false}, "axis": {"title": "Dmax (Gy)", "values": [45,50,55,60,65,70,75,80]}}
 },
 "resolve": {"scale": {"xOffset": "independent"}},
 "layer": [
  {"transform": [{"filter": "datum.k == 'v'"}], "mark": {"type": "line", "color": "#111", "strokeWidth": 1.2, "interpolate": "catmull-rom", "clip": true}, "encoding": {"xOffset": {"field": "w", "type": "quantitative", "scale": {"domain": [-0.5, 0.5]}}, "order": {"field": "y", "type": "quantitative"}, "detail": {"field": "g"}}},
  {"transform": [{"filter": "datum.k == 'v'"}], "mark": {"type": "line", "color": "#111", "strokeWidth": 1.2, "interpolate": "catmull-rom", "clip": true}, "encoding": {"xOffset": {"field": "w", "type": "quantitative", "scale": {"domain": [-0.5, 0.5], "reverse": true}}, "order": {"field": "y", "type": "quantitative"}, "detail": {"field": "g"}}},
  {"transform": [{"filter": "datum.k == 'box'"}], "mark": {"type": "bar", "width": {"band": 0.3}, "fill": "transparent", "stroke": "#444", "strokeWidth": 1.1}, "encoding": {"y2": {"field": "y2"}}},
  {"transform": [{"filter": "datum.k == 'wh'"}], "mark": {"type": "rule", "color": "#222", "strokeWidth": 1.2, "strokeDash": [6, 4]}, "encoding": {"y2": {"field": "y2"}}},
  {"transform": [{"filter": "datum.k == 'cap'"}], "mark": {"type": "tick", "color": "#222", "size": 22, "thickness": 1.3, "opacity": 1}},
  {"transform": [{"filter": "datum.k == 'stat'"}], "mark": {"type": "tick", "filled": false, "thickness": 0.2, "strokeWidth": 1.7, "opacity": 1}, "encoding": {"size": {"field": "w", "type": "quantitative", "scale": {"domain": [0, 0.5], "range": [0, 156]}, "legend": null}, "color": {"field": "s", "type": "nominal", "scale": {"domain": ["Mean", "Median"], "range": ["#111111", "#e3141b"]}, "legend": {"title": null, "orient": "top-right", "offset": 6, "symbolType": "stroke", "symbolSize": 300, "symbolStrokeWidth": 1.8, "labelOffset": 1, "rowPadding": 0, "padding": 0}}}},
  {"transform": [{"filter": "datum.k == 'stat' && datum.s == 'Median'"}], "mark": {"type": "text", "align": "right", "dx": -1, "fontWeight": "bold", "fontSize": 10, "color": "#111"}, "encoding": {"xOffset": {"field": "w", "type": "quantitative", "scale": {"domain": [-0.5, 0.5], "reverse": true}}, "text": {"field": "t"}}},
  {"transform": [{"filter": "datum.k == 'lab'"}], "mark": {"type": "text", "align": "left", "dx": 15, "fontSize": 10.5, "color": "#333"}, "encoding": {"text": {"field": "t"}}},
  {"transform": [{"filter": "datum.k == 'out'"}], "mark": {"type": "point", "shape": "cross", "filled": true, "color": "#e3141b", "size": 18, "opacity": 1}}
 ]}
],
"config": {
 "font": "Liberation Sans",
 "view": {"fill": "white", "stroke": "#9a9a9a", "strokeWidth": 1},
 "axis": {"labelFont": "Liberation Sans", "labelFontSize": 11, "labelColor": "#222", "titleFont": "Liberation Sans", "titleFontSize": 11.5, "titleFontWeight": "normal", "titleColor": "#222", "ticks": false, "domain": false, "labelPadding": 3, "titlePadding": 5},
 "axisX": {"grid": false, "labelPadding": 4},
 "axisY": {"grid": true, "gridColor": "#efefef", "gridWidth": 1},
 "title": {"font": "Liberation Sans", "fontSize": 12, "fontWeight": "bold", "color": "#111", "offset": -4, "anchor": "middle"},
 "legend": {"labelFont": "Liberation Sans", "labelFontSize": 10, "labelColor": "#222"}
}
}
